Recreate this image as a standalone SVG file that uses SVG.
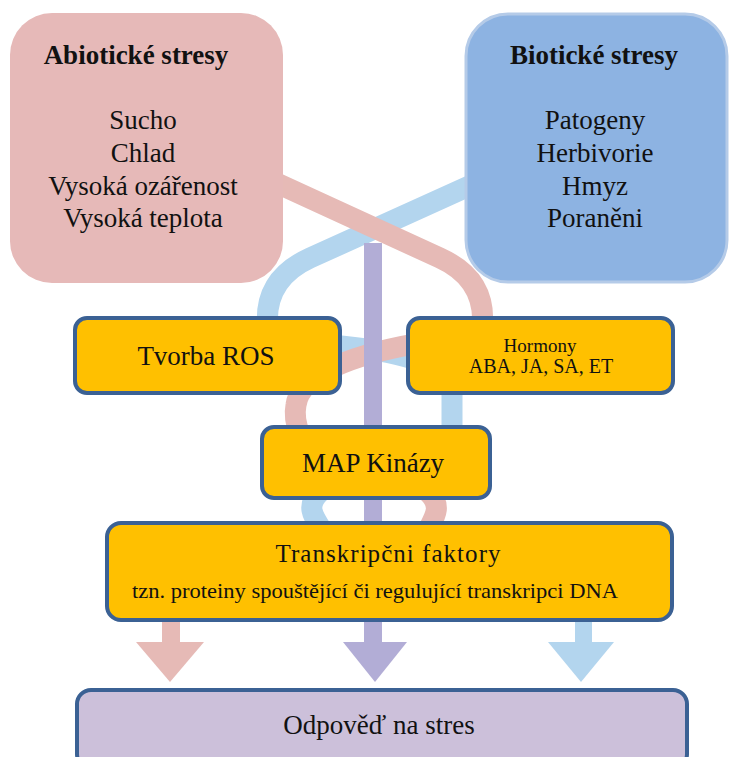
<svg xmlns="http://www.w3.org/2000/svg" width="729" height="757" viewBox="0 0 729 757" font-family="Liberation Serif, Tinos, DejaVu Serif, serif">
<style>
text{font-family:"Liberation Serif",Tinos,"DejaVu Serif",serif;fill:#111;text-anchor:middle}
.t{font-size:27px}
.b{font-size:27px;font-weight:bold}
.gold{fill:#ffc000;stroke:#3b6194;stroke-width:4}
.pk{fill:none;stroke:#e6bab6;stroke-width:21}
.bl{fill:none;stroke:#b3d5ee;stroke-width:21}
.pu{fill:none;stroke:#b2add6;stroke-width:18}
</style>
<rect width="729" height="757" fill="#fff"/>
<g id="connectors">
<path class="bl" d="M478 182 L310 258 Q262 280 268 330"/>
<path class="pk" d="M270 180 L440 258 Q488 280 482 330"/>
<path class="bl" d="M330 345 C390 350 450 360 452 395 L452 435"/>
<path class="pk" d="M420 343 C350 355 300 375 296 405 C294 415 296 425 300 435"/>
<path class="bl" d="M320 492 C306 505 312 515 322 530"/>
<path class="pk" d="M428 492 C442 505 436 515 428 530"/>
<path class="pu" d="M373 243 L373 645"/>
<rect x="162" y="610" width="18" height="34" fill="#e6bab6"/>
<polygon points="136,642 204,642 170,682" fill="#e6bab6"/>
<polygon points="343,642 407,642 375,682" fill="#b2add6"/>
<rect x="575" y="610" width="17" height="34" fill="#b3d5ee"/>
<polygon points="548,642 614,642 581,682" fill="#b3d5ee"/>
</g>
<g id="abioticke">
<rect x="10" y="13" width="273" height="270" rx="42" fill="#e6b9b8"/>
<text class="b" x="136" y="64">Abiotické stresy</text>
<text class="t" x="143" y="129">Sucho</text>
<text class="t" x="143" y="162">Chlad</text>
<text class="t" x="143" y="195">Vysoká ozářenost</text>
<text class="t" x="143" y="227">Vysoká teplota</text>
</g>
<g id="bioticke">
<rect x="466" y="14" width="261" height="268" rx="42" fill="#8db3e2" stroke="#b5cbe8" stroke-width="3"/>
<text class="b" x="594" y="64">Biotické stresy</text>
<text class="t" x="595" y="129">Patogeny</text>
<text class="t" x="595" y="162">Herbivorie</text>
<text class="t" x="595" y="195">Hmyz</text>
<text class="t" x="595" y="227">Poraněni</text>
</g>
<g id="ros">
<rect class="gold" x="75" y="318" width="265" height="75" rx="12"/>
<text class="t" x="206" y="365">Tvorba ROS</text>
</g>
<g id="hormony">
<rect class="gold" x="408" y="318" width="265" height="75" rx="12"/>
<text x="540" y="352" style="font-size:19px">Hormony</text>
<text x="541" y="373" style="font-size:20px">ABA, JA, SA, ET</text>
</g>
<g id="map">
<rect class="gold" x="262" y="427" width="228" height="71" rx="12"/>
<text class="t" x="373" y="472">MAP Kinázy</text>
</g>
<g id="faktory">
<rect class="gold" x="107" y="523" width="565" height="97" rx="14"/>
<text x="388" y="562" style="font-size:25px" textLength="225" lengthAdjust="spacing">Transkripčni faktory</text>
<text x="375" y="598" style="font-size:21px" textLength="486" lengthAdjust="spacingAndGlyphs">tzn. proteiny spouštějící či regulující transkripci DNA</text>
</g>
<g id="odpoved">
<rect x="77" y="690" width="610" height="78" rx="14" fill="#ccc0da" stroke="#3b6194" stroke-width="4"/>
<text class="t" x="379" y="734">Odpověď na stres</text>
</g>
</svg>
